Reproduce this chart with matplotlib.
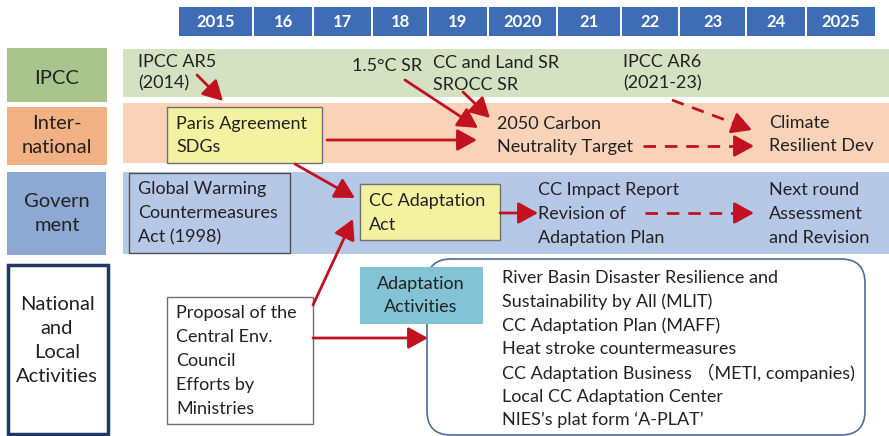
import matplotlib.pyplot as plt
from matplotlib.patches import Rectangle, FancyBboxPatch

plt.rcParams['font.family'] = ['Lato', 'Noto Sans CJK JP', 'DejaVu Sans']

# ---- content ----
YEARS = ["2015", "16", "17", "18", "19", "2020", "21", "22", "23", "24", "2025"]
YEAR_EDGES = [178, 253, 313, 372, 428, 488, 557, 621, 679, 746, 806, 876]

ROW_LABELS = ["IPCC", "Inter-\nnational", "Govern\nment", "National\nand\nLocal\nActivities"]

IPCC_ITEMS = [["IPCC AR5", "(2014)"], ["1.5°C SR"], ["CC and Land SR", "SROCC SR"],
              ["IPCC AR6", "(2021-23)"]]
INTL_ITEMS = [["Paris Agreement", "SDGs"], ["2050 Carbon", "Neutrality Target"],
              ["Climate", "Resilient Dev"]]
GOV_ITEMS = [["Global Warming", "Countermeasures", "Act (1998)"], ["CC Adaptation", "Act"],
             ["CC Impact Report", "Revision of", "Adaptation Plan"],
             ["Next round", "Assessment", "and Revision"]]
PROPOSAL = ["Proposal of the", "Central Env.", "Council", "Efforts by", "Ministries"]
ADAPT_TITLE = ["Adaptation", "Activities"]
ACTIVITIES = ["River Basin Disaster Resilience and",
              "Sustainability by All (MLIT)",
              "CC Adaptation Plan (MAFF)",
              "Heat stroke countermeasures",
              "CC Adaptation Business （METI, companies)",
              "Local CC Adaptation Center",
              "NIES\u2019s plat form \u2018A-PLAT\u2019"]

RED = "#C3121F"
TXT = "#222222"
HEAD_BLUE = "#3E6DB5"
FS = 13


def lines(ax, x, y0, dy, items, ha="left", fs=FS, **kw):
    for i, s in enumerate(items):
        ax.text(x, y0 + i * dy, s, ha=ha, va="center", fontsize=fs, color=TXT, **kw)


def box(ax, x0, y0, x1, y1, fc, ec="none", lw=1.0, z=1):
    ax.add_patch(Rectangle((x0, y0), x1 - x0, y1 - y0, facecolor=fc,
                           edgecolor=ec, linewidth=lw, zorder=z))


def arrow(ax, start, end, dashed=False):
    if dashed:
        # dashed shaft, solid head
        dx, dy = end[0] - start[0], end[1] - start[1]
        ln = (dx ** 2 + dy ** 2) ** 0.5
        ux, uy = dx / ln, dy / ln
        mid = (end[0] - 12 * ux, end[1] - 12 * uy)
        ax.plot([start[0], mid[0]], [start[1], mid[1]], color=RED, lw=2.0,
                dashes=(4.5, 3.2), solid_capstyle="butt", zorder=5)
        start = (end[0] - 14 * ux, end[1] - 14 * uy)
    ax.annotate("", xy=end, xytext=start, zorder=6,
                arrowprops=dict(arrowstyle="-|>,head_length=0.6,head_width=0.33",
                                color=RED, lw=2.0, mutation_scale=20,
                                shrinkA=0, shrinkB=0))


fig = plt.figure(figsize=(8.89, 4.36), dpi=100)
ax = fig.add_axes([0, 0, 1, 1])
ax.set_xlim(0, 889)
ax.set_ylim(436, 0)
ax.axis("off")

# year header
for i, yr in enumerate(YEARS):
    x0, x1 = YEAR_EDGES[i], YEAR_EDGES[i + 1]
    box(ax, x0 + 0.7, 7, x1 - 0.7, 36, HEAD_BLUE)
    ax.text((x0 + x1) / 2, 22, yr, ha="center", va="center", color="white",
            fontsize=12, fontweight="bold")

# row bands
box(ax, 123, 49, 889, 97, "#D5E2C1")
box(ax, 123, 103, 889, 163, "#F9D3B8")
box(ax, 123, 172, 889, 254, "#B5C8E6")

# row labels
box(ax, 7, 48, 107, 102, "#A9C48C")
box(ax, 7, 107, 107, 165, "#F2B183")
box(ax, 7, 172, 106, 255, "#8DA9D3")
box(ax, 8, 265, 108, 434, "white", ec="#1F3864", lw=2.5)
for lab, yc in zip(ROW_LABELS, [78, 135, 213, 340]):
    n = lab.count("\n") + 1
    lines(ax, 57, yc - (n - 1) * 12, 24, lab.split("\n"), ha="center", fs=14.5)

# IPCC row
lines(ax, 138, 62, 21, IPCC_ITEMS[0])
lines(ax, 352, 66, 21, IPCC_ITEMS[1])
lines(ax, 433, 63, 22, IPCC_ITEMS[2])
lines(ax, 623, 62, 21, IPCC_ITEMS[3])

# international row
box(ax, 167, 107, 322, 163, "#F4F1A1", ec="#707070", lw=1.0, z=2)
lines(ax, 176, 124, 23, INTL_ITEMS[0], zorder=3)
lines(ax, 497, 124, 23, INTL_ITEMS[1])
lines(ax, 769, 123, 23, INTL_ITEMS[2])

# government row
box(ax, 129, 173, 290, 253, "#B5C8E6", ec="#505050", lw=1.0, z=2)
lines(ax, 138, 189, 24, GOV_ITEMS[0], zorder=3)
box(ax, 360, 184, 500, 240, "#F4F1A1", ec="#707070", lw=1.0, z=2)
lines(ax, 369, 201, 24, GOV_ITEMS[1], zorder=3)
lines(ax, 538, 190, 24, GOV_ITEMS[2])
lines(ax, 769, 190, 24, GOV_ITEMS[3])

# national row
box(ax, 167, 297, 313, 424, "white", ec="#707070", lw=1.0, z=2)
lines(ax, 176, 313, 24, PROPOSAL, zorder=3)
ax.add_patch(FancyBboxPatch((427, 259), 865 - 427, 435 - 259,
                            boxstyle="round,pad=0,rounding_size=24",
                            facecolor="white", edgecolor="#4F6C9A", lw=1.2, zorder=2))
lines(ax, 502, 278, 23.7, ACTIVITIES, zorder=3)
box(ax, 360, 267, 483, 324, "#82C3D6", z=4)
lines(ax, 421, 284, 23, ADAPT_TITLE, ha="center", zorder=5)

# arrows
arrow(ax, (197, 75), (223, 101))
arrow(ax, (405, 80), (478, 128))
arrow(ax, (463, 92), (490, 118))
arrow(ax, (327, 140), (477, 140))
arrow(ax, (643, 146), (754, 146), dashed=True)
arrow(ax, (672, 100), (752, 130), dashed=True)
arrow(ax, (295, 164), (355, 198))
arrow(ax, (313, 305), (353, 219))
arrow(ax, (313, 338), (428, 338))
arrow(ax, (500, 213), (538, 213))
arrow(ax, (645, 213), (754, 213), dashed=True)

fig.savefig("out.png", dpi=100)
